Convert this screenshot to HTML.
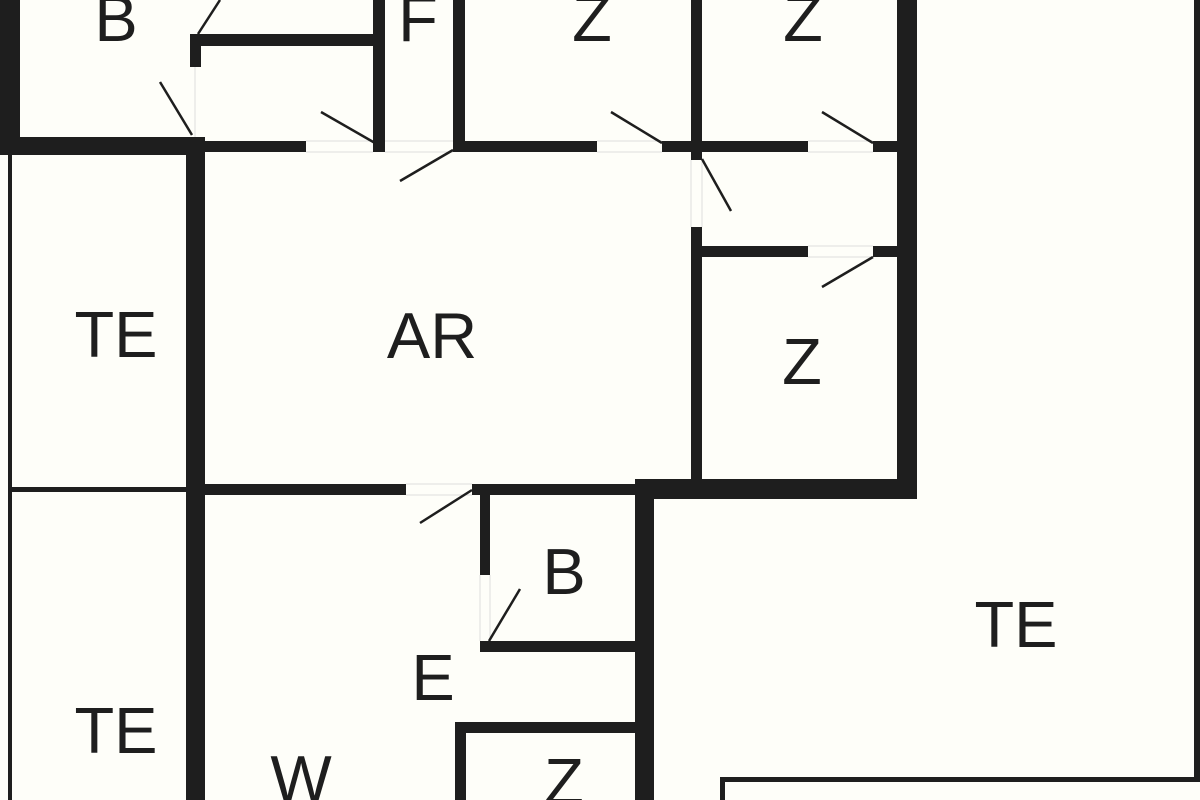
<!DOCTYPE html>
<html><head><meta charset="utf-8"><style>
html,body{margin:0;padding:0;background:#fefef9;}
svg{display:block}
text{font-family:"Liberation Sans",sans-serif;font-size:65px;fill:#1e1e1e;text-anchor:middle}
</style></head><body>
<svg width="1200" height="800" viewBox="0 0 1200 800" xmlns="http://www.w3.org/2000/svg">
<rect width="1200" height="800" fill="#fefef9"/>
<g fill="#1e1e1e">
<!-- left outer -->
<rect x="0" y="0" width="20" height="155"/>
<rect x="0" y="137" width="205" height="18"/>
<rect x="186" y="137" width="19" height="663"/>
<rect x="8" y="155" width="4" height="645"/>
<rect x="10" y="487" width="176" height="5"/>
<!-- top left rooms -->
<rect x="190" y="34" width="11" height="33"/>
<rect x="190" y="34" width="188" height="12"/>
<rect x="373" y="0" width="12" height="152"/>
<rect x="205" y="141" width="101" height="11"/>
<rect x="453" y="0" width="12" height="152"/>
<rect x="453" y="141" width="144" height="11"/>
<rect x="662" y="141" width="146" height="11"/>
<rect x="691" y="0" width="11" height="160"/>
<rect x="691" y="227" width="11" height="262"/>
<rect x="702" y="246" width="106" height="11"/>
<rect x="873" y="246" width="30" height="11"/>
<rect x="873" y="141" width="30" height="11"/>
<rect x="897" y="0" width="20" height="499"/>
<rect x="635" y="479" width="282" height="20"/>
<rect x="635" y="479" width="19" height="321"/>
<!-- middle -->
<rect x="205" y="484" width="201" height="11"/>
<rect x="472" y="484" width="163" height="11"/>
<rect x="480" y="484" width="10" height="91"/>
<rect x="480" y="641" width="155" height="11"/>
<rect x="455" y="722" width="180" height="11"/>
<rect x="455" y="722" width="11" height="78"/>
<!-- right outline -->
<rect x="1194" y="0" width="6" height="782"/>
<rect x="720" y="777" width="480" height="5"/>
<rect x="720" y="777" width="5" height="23"/>
</g>
<!-- door gaps faint lines -->
<g stroke="#ddd" stroke-width="1" fill="none">
<path d="M195 67V137M306 141H373M306 152H373M385 141H453M385 152H453M597 141H662M597 152H662M808 141H873M808 152H873M808 246H873M808 257H873M691 160V227M702 160V227M406 484H472M406 495H472M480 575V641M490 575V641"/>
</g>
<g stroke="#1e1e1e" stroke-width="2.5" stroke-linecap="butt">
<line x1="198" y1="34" x2="220" y2="0"/>
<line x1="160" y1="82" x2="192" y2="135"/>
<line x1="321" y1="112" x2="375" y2="143"/>
<line x1="400" y1="181" x2="453" y2="150"/>
<line x1="611" y1="112" x2="662" y2="143"/>
<line x1="702" y1="159" x2="731" y2="211"/>
<line x1="822" y1="112" x2="873" y2="143"/>
<line x1="822" y1="287" x2="873" y2="257"/>
<line x1="420" y1="523" x2="472" y2="490"/>
<line x1="489" y1="641" x2="520" y2="589"/>
</g>
<text x="116" y="41">B</text>
<text x="418" y="41">F</text>
<text x="592" y="41">Z</text>
<text x="803" y="41">Z</text>
<text x="116" y="357">TE</text>
<text x="432" y="358">AR</text>
<text x="802" y="384">Z</text>
<text x="1016" y="647">TE</text>
<text x="564" y="594">B</text>
<text x="433" y="700">E</text>
<text x="116" y="753">TE</text>
<text x="301" y="801">W</text>
<text x="564" y="804">Z</text>
</svg>
</body></html>
